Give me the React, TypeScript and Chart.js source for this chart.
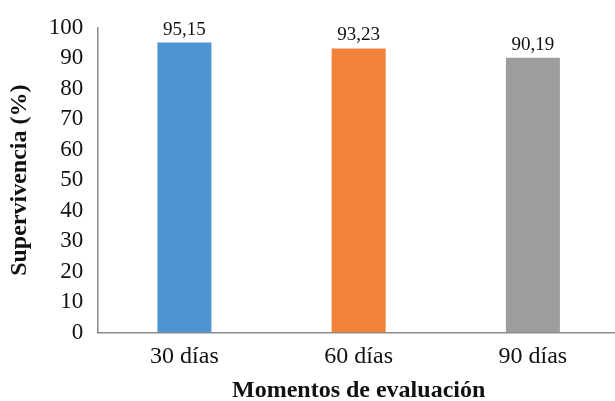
import React, { useEffect, useRef } from "react";
import { Chart, registerables } from "chart.js";

Chart.register(...registerables);

const categories = ["30 días", "60 días", "90 días"];
const values = [95.15, 93.23, 90.19];
const valueLabels = ["95,15", "93,23", "90,19"];
const barColors = ["#4E94D0", "#F0823A", "#9D9D9D"];

const SERIF = "'Liberation Serif', 'Times New Roman', serif";

const valueLabelPlugin = {
  id: "valueLabels",
  afterDatasetsDraw(chart: any) {
    const ctx = chart.ctx;
    const meta = chart.getDatasetMeta(0);
    ctx.save();
    ctx.font = `19px ${SERIF}`;
    ctx.fillStyle = "#111";
    ctx.textAlign = "center";
    ctx.textBaseline = "alphabetic";
    meta.data.forEach((bar: any, i: number) => {
      ctx.fillText(valueLabels[i], bar.x, bar.y - 8);
    });
    ctx.restore();
  },
};

export default function App() {
  const ref = useRef<HTMLCanvasElement>(null);
  useEffect(() => {
    if (!ref.current) return;
    const chart = new Chart(ref.current, {
      type: "bar",
      data: {
        labels: categories,
        datasets: [
          {
            data: values,
            backgroundColor: barColors,
            barPercentage: 0.62,
            categoryPercentage: 0.5,
          },
        ],
      },
      options: {
        animation: false,
        responsive: false,
        maintainAspectRatio: false,
        layout: { padding: { top: 27, right: 0, left: 5, bottom: 0 } },
        plugins: {
          legend: { display: false },
          tooltip: { enabled: false },
        },
        scales: {
          x: {
            grid: { display: false, drawTicks: false },
            border: { display: true, color: "#8a8a8a", width: 1.5 },
            ticks: {
              color: "#111",
              font: { family: SERIF, size: 24, lineHeight: 1.0 },
              padding: 12,
              autoSkip: false,
              maxRotation: 0,
            },
            title: {
              display: true,
              text: "Momentos de evaluación",
              color: "#111",
              font: { family: SERIF, size: 24, weight: "bold", lineHeight: 0.85 },
              padding: { top: 0, bottom: 0 },
            },
          },
          y: {
            min: 0,
            max: 100,
            grid: { display: false, drawTicks: false },
            border: { display: true, color: "#8a8a8a", width: 1.5 },
            ticks: {
              stepSize: 10,
              autoSkip: false,
              color: "#111",
              font: { family: SERIF, size: 23 },
              padding: 14,
            },
            title: {
              display: true,
              text: "Supervivencia (%)",
              color: "#111",
              font: { family: SERIF, size: 24, weight: "bold" },
              padding: { top: 0, bottom: 1 },
            },
          },
        },
      },
      plugins: [valueLabelPlugin],
    });
    return () => chart.destroy();
  }, []);
  return (
    <div style={{ position: "fixed", left: 0, top: 0, width: 615, height: 401, overflow: "hidden", background: "#fff" }}>
      <canvas ref={ref} width={620} height={401} style={{ display: "block" }} />
    </div>
  );
}
